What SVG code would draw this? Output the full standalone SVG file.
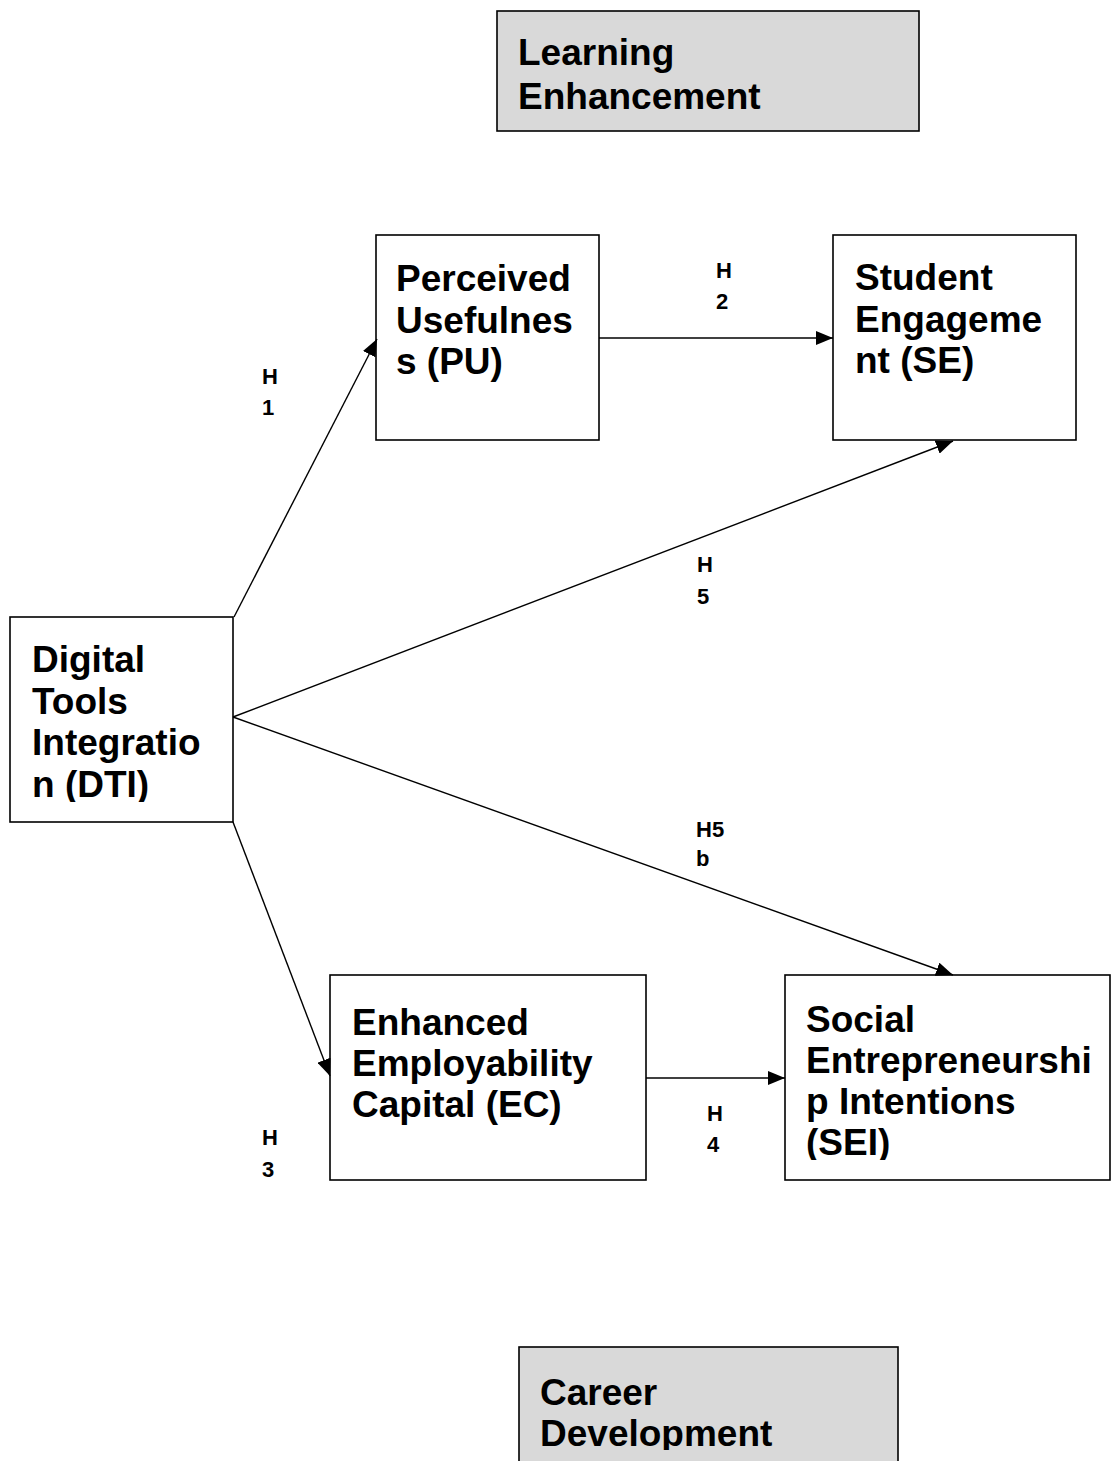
<svg xmlns="http://www.w3.org/2000/svg" width="1112" height="1461" viewBox="0 0 1112 1461">
<style>
.box{fill:#fff;stroke:#000;stroke-width:1.6}
.grey{fill:#d9d9d9;stroke:#000;stroke-width:1.6}
.t{font-family:"Liberation Sans",Arial,sans-serif;font-weight:bold;font-size:37px;fill:#000}
.lbl{font-family:"Liberation Sans",Arial,sans-serif;font-weight:bold;font-size:22px;fill:#000}
.con{stroke:#000;stroke-width:1.4;fill:none;marker-end:url(#ah)}
</style>
<defs>
<marker id="ah" markerUnits="userSpaceOnUse" markerWidth="18" markerHeight="14" refX="17" refY="7" orient="auto">
<path d="M0,0 L17,7 L0,14 Z" fill="#000"/>
</marker>
<clipPath id="cDTI"><rect x="10" y="617" width="222" height="185"/></clipPath>
<clipPath id="cSEI"><rect x="785" y="975" width="325" height="185"/></clipPath>
<clipPath id="cCD"><rect x="519" y="1347" width="380" height="103"/></clipPath>
</defs>
<rect width="1112" height="1461" fill="#fff"/>

<g id="learning">
<rect class="grey" x="497" y="11" width="422" height="120"/>
<text class="t" x="518" y="65">Learning</text>
<text class="t" x="518" y="109">Enhancement</text>
</g>

<g id="pu">
<rect class="box" x="376" y="235" width="223" height="205"/>
<text class="t" x="396" y="291">Perceived</text>
<text class="t" x="396" y="333">Usefulnes</text>
<text class="t" x="396" y="374">s (PU)</text>
</g>

<g id="se">
<rect class="box" x="833" y="235" width="243" height="205"/>
<text class="t" x="855" y="290">Student</text>
<text class="t" x="855" y="332">Engageme</text>
<text class="t" x="855" y="373">nt (SE)</text>
</g>

<g id="dti">
<rect class="box" x="10" y="617" width="223" height="205"/>
<g clip-path="url(#cDTI)">
<text class="t" x="32" y="672">Digital</text>
<text class="t" x="32" y="714">Tools</text>
<text class="t" x="32" y="755">Integratio</text>
<text class="t" x="32" y="797">n (DTI)</text>
</g>
</g>

<g id="ec">
<rect class="box" x="330" y="975" width="316" height="205"/>
<text class="t" x="352" y="1035">Enhanced</text>
<text class="t" x="352" y="1076">Employability</text>
<text class="t" x="352" y="1117">Capital (EC)</text>
</g>

<g id="sei">
<rect class="box" x="785" y="975" width="325" height="205"/>
<g clip-path="url(#cSEI)">
<text class="t" x="806" y="1032">Social</text>
<text class="t" x="806" y="1073">Entrepreneurshi</text>
<text class="t" x="806" y="1114">p Intentions</text>
<text class="t" x="806" y="1155">(SEI)</text>
</g>
</g>

<g id="career">
<rect class="grey" x="519" y="1347" width="379" height="130"/>
<g clip-path="url(#cCD)">
<text class="t" x="540" y="1405">Career</text>
<text class="t" x="540" y="1446">Development</text>
</g>
</g>

<g id="connectors">
<line class="con" x1="234" y1="617" x2="377" y2="339"/>
<line class="con" x1="599" y1="338" x2="833" y2="338"/>
<line class="con" x1="233" y1="717" x2="953" y2="441"/>
<line class="con" x1="233" y1="717" x2="953" y2="975"/>
<line class="con" x1="233" y1="822" x2="330" y2="1076"/>
<line class="con" x1="646" y1="1078" x2="785" y2="1078"/>
</g>

<g id="labels">
<text class="lbl" x="262" y="384">H</text>
<text class="lbl" x="262" y="415">1</text>
<text class="lbl" x="716" y="278">H</text>
<text class="lbl" x="716" y="309">2</text>
<text class="lbl" x="697" y="572">H</text>
<text class="lbl" x="697" y="604">5</text>
<text class="lbl" x="696" y="837">H5</text>
<text class="lbl" x="696" y="866">b</text>
<text class="lbl" x="262" y="1145">H</text>
<text class="lbl" x="262" y="1177">3</text>
<text class="lbl" x="707" y="1121">H</text>
<text class="lbl" x="707" y="1152">4</text>
</g>
</svg>
